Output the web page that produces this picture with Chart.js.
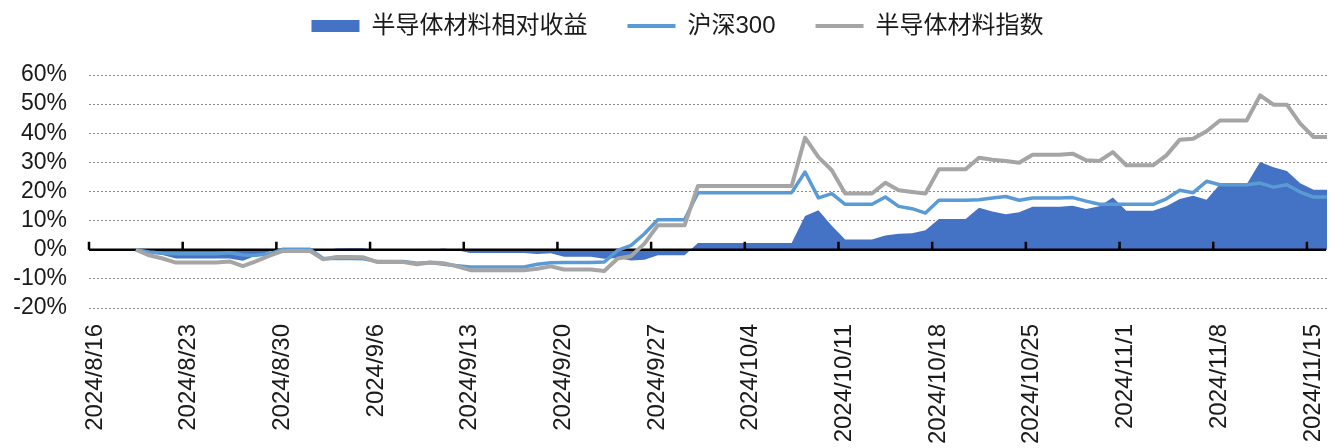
<!DOCTYPE html>
<html>
<head>
<meta charset="utf-8">
<script src="https://cdn.jsdelivr.net/npm/chart.js@4.4.1/dist/chart.umd.min.js"></script>
<style>
  html, body { margin: 0; padding: 0; background: #fff; }
  #wrap { width: 1334px; height: 448px; }
</style>
</head>
<body>
<div id="wrap"><canvas id="chart"></canvas></div>
<script>
// calendar days, non-trading days carry the previous close
const dates = [
  '8/19', '8/20', '8/21', '8/22', '8/23', '8/24', '8/25',
  '8/26', '8/27', '8/28', '8/29', '8/30', '8/31', '9/1',
  '9/2', '9/3', '9/4', '9/5', '9/6', '9/7', '9/8',
  '9/9', '9/10', '9/11', '9/12', '9/13', '9/14', '9/15',
  '9/16', '9/17', '9/18', '9/19', '9/20', '9/21', '9/22',
  '9/23', '9/24', '9/25', '9/26', '9/27', '9/28', '9/29',
  '9/30', '10/1', '10/2', '10/3', '10/4', '10/5', '10/6',
  '10/7', '10/8', '10/9', '10/10', '10/11', '10/12', '10/13',
  '10/14', '10/15', '10/16', '10/17', '10/18', '10/19', '10/20',
  '10/21', '10/22', '10/23', '10/24', '10/25', '10/26', '10/27',
  '10/28', '10/29', '10/30', '10/31', '11/1', '11/2', '11/3',
  '11/4', '11/5', '11/6', '11/7', '11/8', '11/9', '11/10',
  '11/11', '11/12', '11/13', '11/14', '11/15', '11/16'
];

const relativeReturn = [
  0, -1.1, -1.8, -3.0, -3.0, -3.0, -3.0,
  -3.0, -3.8, -2.0, -0.6, -0.6, -0.6, -0.6,
  -0.3, 0.4, 0.5, 0.5, -0.2, -0.2, -0.2,
  -0.4, 0.0, 0.4, -0.2, -1.1, -1.1, -1.1,
  -1.1, -1.1, -1.5, -1.2, -2.4, -2.4, -2.4,
  -3.1, -2.8, -3.7, -3.4, -1.9, -1.9, -1.9,
  2.3, 2.3, 2.3, 2.3, 2.3, 2.3, 2.3,
  2.3, 11.6, 13.6, 8.2, 3.5, 3.5, 3.5,
  4.9, 5.5, 5.7, 6.7, 10.6, 10.6, 10.6,
  14.4, 13.1, 12.2, 12.9, 14.8, 14.8, 14.8,
  15.1, 14.0, 14.9, 17.9, 13.4, 13.4, 13.4,
  14.9, 17.4, 18.5, 17.2, 22.5, 22.5, 22.5,
  30.1, 28.3, 27.0, 22.8, 20.6, 20.6
];

const hs300 = [
  0, -0.8, -1.2, -1.4, -1.4, -1.4, -1.4,
  -1.0, -1.8, -1.9, -1.4, 0.2, 0.2, 0.2,
  -3.0, -2.9, -3.0, -3.1, -4.0, -4.0, -4.0,
  -4.6, -4.4, -5.0, -5.5, -5.9, -5.9, -5.9,
  -5.9, -5.9, -5.0, -4.5, -4.4, -4.4, -4.4,
  -4.2, -0.2, 1.5, 5.5, 10.3, 10.3, 10.3,
  19.6, 19.6, 19.6, 19.6, 19.6, 19.6, 19.6,
  19.6, 26.7, 17.8, 19.3, 15.6, 15.6, 15.6,
  18.1, 14.9, 14.1, 12.6, 17.0, 17.0, 17.0,
  17.2, 17.8, 18.3, 17.0, 17.8, 17.8, 17.8,
  17.9, 16.7, 15.6, 15.6, 15.6, 15.6, 15.6,
  17.5, 20.4, 19.6, 23.5, 22.3, 22.3, 22.3,
  22.9, 21.5, 22.3, 19.8, 18.1, 18.1
];

const materialIndex = [
  0, -1.9, -3.0, -4.4, -4.4, -4.4, -4.4,
  -4.0, -5.6, -3.9, -2.0, -0.4, -0.4, -0.4,
  -3.3, -2.5, -2.5, -2.6, -4.2, -4.2, -4.2,
  -5.0, -4.4, -4.6, -5.7, -7.0, -7.0, -7.0,
  -7.0, -7.0, -6.5, -5.7, -6.8, -6.8, -6.8,
  -7.3, -3.0, -2.2, 2.1, 8.4, 8.4, 8.4,
  21.9, 21.9, 21.9, 21.9, 21.9, 21.9, 21.9,
  21.9, 38.5, 31.8, 27.3, 19.3, 19.3, 19.3,
  23.0, 20.4, 19.8, 19.3, 27.6, 27.6, 27.6,
  31.6, 30.9, 30.5, 29.9, 32.6, 32.6, 32.6,
  33.0, 30.7, 30.5, 33.5, 29.0, 29.0, 29.0,
  32.4, 37.8, 38.1, 40.7, 44.4, 44.4, 44.4,
  53.0, 49.8, 49.8, 43.3, 38.7, 38.7
];

const tickLabels = [
  '2024/8/16', '2024/8/23', '2024/8/30', '2024/9/6', '2024/9/13', '2024/9/20', '2024/9/27',
  '2024/10/4', '2024/10/11', '2024/10/18', '2024/10/25', '2024/11/1', '2024/11/8', '2024/11/15'
];

const seriesNames = ['半导体材料相对收益', '沪深300', '半导体材料指数'];

// days since 2024/8/16
const baseDay = Date.UTC(2024, 7, 16);
function dayIndex(s) {
  const p = s.split('/').map(Number);
  const [y, m, d] = p.length === 3 ? p : [2024, p[0], p[1]];
  return (Date.UTC(y, m - 1, d) - baseDay) / 864e5;
}
const toPoints = (vals) => vals.map((v, i) => ({ x: dayIndex(dates[i]), y: v }));

// black 0% axis with weekly tick marks, drawn right after the area
const zeroAxis = {
  id: 'zeroAxis',
  afterDatasetDraw(chart, args) {
    if (args.index !== 0) return;
    const { ctx, chartArea, scales: { x, y } } = chart;
    const y0 = y.getPixelForValue(0);
    ctx.save();
    ctx.strokeStyle = '#000';
    ctx.lineWidth = 2.5;
    ctx.beginPath();
    ctx.moveTo(chartArea.left, y0);
    ctx.lineTo(chartArea.right - 1, y0);
    x.ticks.forEach(t => {
      const px = x.getPixelForValue(t.value);
      ctx.moveTo(px, y0);
      ctx.lineTo(px, y0 - 8);
    });
    ctx.stroke();
    ctx.restore();
  }
};

const legendGap = {
  id: 'legendGap',
  beforeInit(chart) {
    const fit = chart.legend.fit;
    chart.legend.fit = function () {
      fit.call(this);
      this.height = 101;
    };
  },
  afterLayout(chart) {
    chart.legend.left += 14;
    chart.legend.right += 14;
  }
};

Chart.defaults.font.family = '"Liberation Sans", Arial, sans-serif';
Chart.defaults.color = '#1a1a1a';

new Chart(document.getElementById('chart'), {
  type: 'line',
  data: {
    datasets: [
      {
        label: seriesNames[0],
        data: toPoints(relativeReturn),
        fill: 'origin',
        backgroundColor: '#4472C4',
        borderColor: '#4472C4',
        borderWidth: 0,
        pointRadius: 0,
        pointStyle: 'rect',
        pointBackgroundColor: '#4472C4',
        pointBorderWidth: 0,
        order: 2,
        clip: 0
      },
      {
        label: seriesNames[1],
        data: toPoints(hs300),
        borderColor: '#5B9BD5',
        backgroundColor: '#5B9BD5',
        borderWidth: 3.5,
        borderJoinStyle: 'round',
        pointRadius: 0,
        pointStyle: 'line',
        pointBorderColor: '#5B9BD5',
        pointBorderWidth: 4,
        order: 1,
        clip: 0
      },
      {
        label: seriesNames[2],
        data: toPoints(materialIndex),
        borderColor: '#A5A5A5',
        backgroundColor: '#A5A5A5',
        borderWidth: 4,
        borderJoinStyle: 'round',
        pointRadius: 0,
        pointStyle: 'line',
        pointBorderColor: '#A5A5A5',
        pointBorderWidth: 4,
        order: 0,
        clip: 0
      }
    ]
  },
  options: {
    responsive: true,
    maintainAspectRatio: false,
    animation: false,
    layout: { padding: { top: -26, left: 0, right: 7, bottom: 0 } },
    plugins: {
      tooltip: { enabled: false },
      legend: {
        position: 'top',
        labels: {
          usePointStyle: true,
          pointStyleWidth: 48,
          boxHeight: 12,
          padding: 40,
          color: '#1a1a1a',
          font: { family: '"Liberation Sans", "Noto Sans CJK SC", sans-serif', size: 24 },
          sort: (a, b) => a.datasetIndex - b.datasetIndex
        }
      }
    },
    scales: {
      x: {
        type: 'linear',
        min: -0.5,
        max: 92,
        grid: { display: false },
        border: { display: false },
        afterBuildTicks: (scale) => {
          scale.ticks = tickLabels.map(l => ({ value: dayIndex(l) - 0.5 }));
        },
        afterFit: (scale) => {
          scale.height = 140;
          scale.paddingLeft = 0;
          scale.paddingRight = 0;
        },
        ticks: {
          autoSkip: false,
          minRotation: 90,
          maxRotation: 90,
          padding: 8,
          labelOffset: 6,
          font: { size: 24 },
          color: '#1a1a1a',
          callback: (value, index) => tickLabels[index]
        }
      },
      y: {
        min: -20,
        max: 60,
        border: { display: false, dash: [2, 2] },
        grid: {
          drawTicks: false,
          color: '#8c8c8c',
          lineWidth: 1
        },
        afterFit: (scale) => { scale.width = 89; },
        ticks: {
          autoSkip: false,
          stepSize: 10,
          padding: 22,
          font: { size: 23 },
          color: '#1a1a1a',
          callback: (v) => v + '%'
        }
      }
    }
  },
  plugins: [zeroAxis, legendGap]
});
</script>
</body>
</html>
